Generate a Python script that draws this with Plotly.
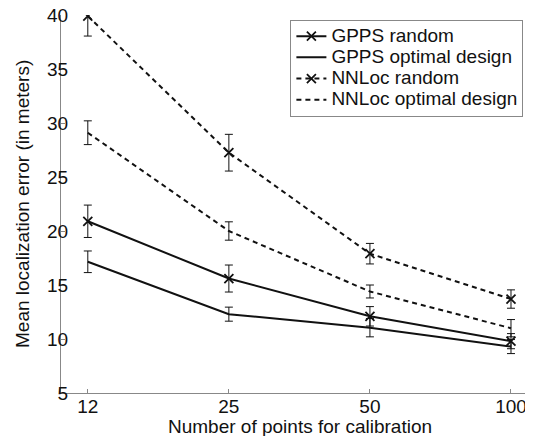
import plotly.graph_objects as go

# Data
calib_points = ["12", "25", "50", "100"]
series_names = ["GPPS random", "GPPS optimal design", "NNLoc random", "NNLoc optimal design"]
gpps_random = [20.9, 15.6, 12.1, 9.8]
gpps_random_err = [1.5, 1.25, 0.9, 0.7]
gpps_optimal = [17.15, 12.3, 11.05, 9.3]
gpps_optimal_err = [1.0, 0.65, 0.85, 0.65]
nnloc_random = [39.9, 27.25, 17.9, 13.7]
nnloc_random_err = [1.85, 1.7, 0.95, 0.85]
nnloc_optimal = [29.1, 20.0, 14.4, 11.0]
nnloc_optimal_err = [1.1, 0.85, 0.6, 0.8]
y_ticks = [5, 10, 15, 20, 25, 30, 35, 40]

idx = list(range(len(calib_points)))
FONT = "Liberation Sans, Arial, Helvetica, sans-serif"
BLACK = "#111111"
GREY = "#888888"

def trace(name, y, err, dash, marker):
    return go.Scatter(
        x=idx, y=y,
        name="<span style='font-size:19px'>%s</span>" % name,
        mode="lines+markers" if marker else "lines",
        line=dict(color=BLACK, width=2, dash=dash),
        marker=dict(symbol="x-thin", size=9, color=BLACK,
                    line=dict(color=BLACK, width=1.8)) if marker else None,
        error_y=dict(type="data", array=err, visible=True,
                     color=BLACK, thickness=1, width=4),
    )

fig = go.Figure()
fig.add_trace(trace(series_names[0], gpps_random, gpps_random_err, "solid", True))
fig.add_trace(trace(series_names[1], gpps_optimal, gpps_optimal_err, "solid", False))
fig.add_trace(trace(series_names[2], nnloc_random, nnloc_random_err, "5px,4px", True))
fig.add_trace(trace(series_names[3], nnloc_optimal, nnloc_optimal_err, "5px,4px", False))

axis_common = dict(
    showgrid=False, zeroline=False, showline=True, linecolor=GREY,
    linewidth=1, ticks="inside", ticklen=4, tickcolor=GREY,
    tickfont=dict(family=FONT, size=19, color=BLACK), mirror=False,
    automargin=False, ticklabeloverflow="allow",
)

fig.update_layout(
    width=525, height=428,
    margin=dict(l=53, r=0, t=7, b=43),
    paper_bgcolor="white", plot_bgcolor="white",
    font=dict(family=FONT, color=BLACK),
    xaxis=dict(**axis_common, range=[-0.19, 3.156],
               tickvals=idx, ticktext=calib_points, ticklabelstandoff=-4),
    yaxis=dict(**axis_common, range=[5, 40], tickvals=y_ticks,
               ticklabelstandoff=-12),
    legend=dict(
        x=0.486, y=0.988, xanchor="left", yanchor="top",
        bgcolor="white", bordercolor=GREY, borderwidth=1,
        font=dict(family=FONT, size=14, color=BLACK),
        tracegroupgap=0,
    ),
    showlegend=True,
    annotations=[
        dict(text="Number of points for calibration", xref="paper", yref="paper",
             x=0.506, y=-0.089, xanchor="center", yanchor="middle",
             showarrow=False, font=dict(family=FONT, size=19, color=BLACK)),
        dict(text="Mean localization error (in meters)", xref="paper", yref="paper",
             x=-0.0826, y=0.5, xanchor="center", yanchor="middle", textangle=-90,
             showarrow=False, font=dict(family=FONT, size=19, color=BLACK)),
    ],
)

fig.write_html("out.html")
